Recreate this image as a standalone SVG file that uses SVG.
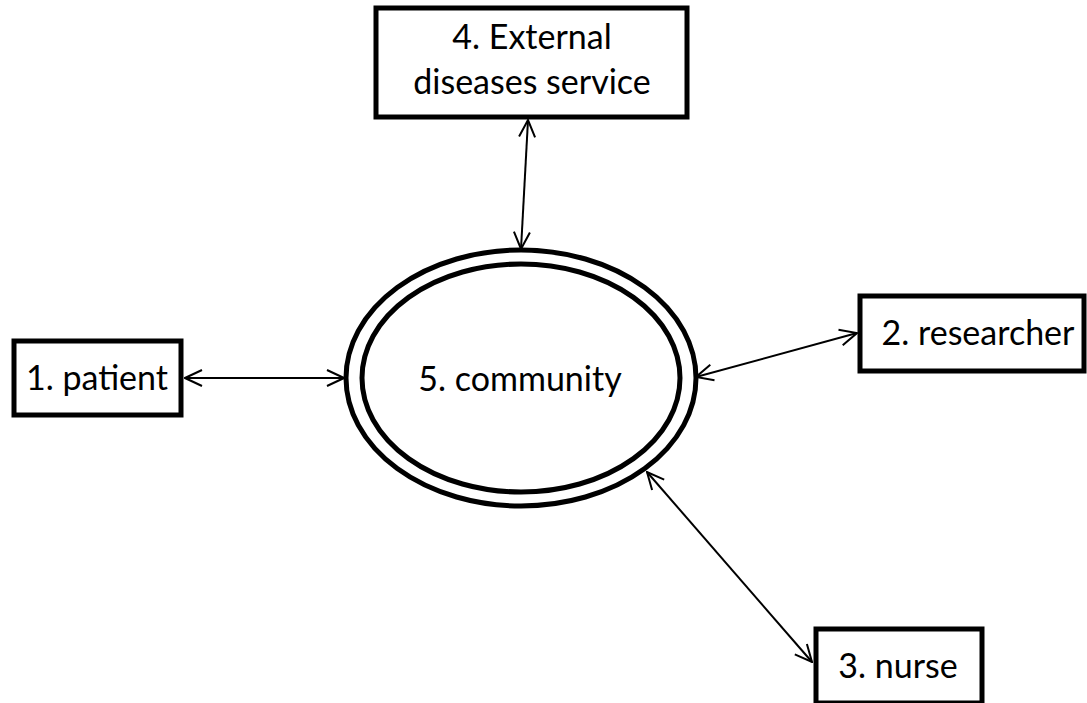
<svg xmlns="http://www.w3.org/2000/svg" width="1087" height="703" viewBox="0 0 1087 703">
<defs>
<marker id="arr" viewBox="0 0 20 20" refX="19" refY="10" markerWidth="20" markerHeight="20" markerUnits="userSpaceOnUse" orient="auto-start-reverse">
<path d="M2,2 L19,10 L2,18" fill="none" stroke="#000" stroke-width="2"/>
</marker>
<style>
.box{fill:#fff;stroke:#000;stroke-width:5}
.ell{fill:none;stroke:#000;stroke-width:5}
.lbl{font-family:Lato,"Liberation Sans",sans-serif;font-size:34px;fill:#000;text-anchor:middle}
.con{stroke:#000;stroke-width:2;fill:none;marker-start:url(#arr);marker-end:url(#arr)}
</style>
</defs>
<rect width="1087" height="703" fill="#fff"/>
<g id="connectors">
<line class="con" x1="185" y1="378" x2="344" y2="378"/>
<line class="con" x1="857" y1="333" x2="696" y2="377"/>
<line class="con" x1="528" y1="120" x2="521" y2="249"/>
<line class="con" x1="647" y1="472" x2="812" y2="662"/>
</g>
<g id="node5">
<ellipse class="ell" cx="521" cy="378" rx="175" ry="128"/>
<ellipse class="ell" cx="521" cy="378" rx="159" ry="114"/>
<text class="lbl" x="520" y="391">5. community</text>
</g>
<g id="node4">
<rect class="box" x="376" y="8" width="311" height="109"/>
<text class="lbl" x="532" y="49">4. External</text>
<text class="lbl" x="532" y="94">diseases service</text>
</g>
<g id="node1">
<rect class="box" x="14" y="341" width="167" height="74"/>
<text class="lbl" x="97" y="390">1. patient</text>
</g>
<g id="node2">
<rect class="box" x="860" y="296" width="224" height="75"/>
<text class="lbl" x="978" y="345">2. researcher</text>
</g>
<g id="node3">
<rect class="box" x="816" y="629" width="166" height="74"/>
<text class="lbl" x="898" y="678">3. nurse</text>
</g>
</svg>
